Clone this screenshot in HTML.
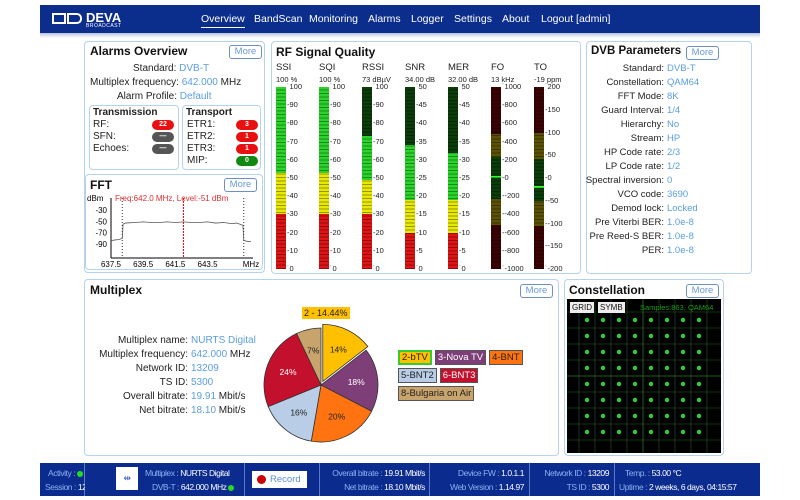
<!DOCTYPE html>
<html><head><meta charset="utf-8">
<style>
*{box-sizing:border-box;margin:0;padding:0}
body{width:800px;height:500px;background:#fff;font-family:"Liberation Sans",sans-serif;font-size:10px;color:#222;position:relative;overflow:hidden}
.abs{position:absolute}
.panel{position:absolute;border:1.5px solid #b5d2ee;border-radius:4px;background:#fff}
.ttl{position:absolute;font-weight:bold;font-size:12px;color:#111;white-space:nowrap}
.more{position:absolute;border:1.5px solid #6d8fc4;border-radius:3px;background:#fff;color:#6a9ad8;font-size:9.5px;text-align:center;line-height:11px;width:33px;height:14px}
.v{color:#5a9ee0}
.row{position:absolute;white-space:nowrap;font-size:10px}
.nav{position:absolute;top:13px;color:#fff;font-size:10.5px}
.pill{position:absolute;width:22px;height:10px;border-radius:5px;color:#fff;font-size:7px;font-weight:bold;text-align:center;line-height:10px}
.sb{position:absolute;top:463px;height:33px;background:#0b2b8e;border-right:1px solid #5a7ac8;color:#fff;font-size:8.5px;white-space:nowrap;letter-spacing:-0.45px}
.sb span.l{color:#8fb0f0}
.dot{display:inline-block;width:6px;height:6px;border-radius:3px;background:#2d2;vertical-align:middle}
.leg{display:inline-block;height:15px;font-size:9.5px;line-height:13px;padding:0 2px;border:1px solid #555;margin-right:3px;white-space:nowrap}
</style></head><body>
<!-- header -->
<div class="abs" style="left:40px;top:5px;width:720px;height:28px;background:#0b2d8c"></div>
<div class="abs" style="left:40px;top:33px;width:720px;height:5px;background:linear-gradient(#b8c4e0,#fff)"></div>
<div class="abs" style="left:52px;top:11px;width:74px;height:18px">
 <div class="abs" style="left:0;top:2px;width:14px;height:11px;border:2.5px solid #fff"></div>
 <div class="abs" style="left:15px;top:2px;width:15px;height:11px;border:2.5px solid #fff;border-radius:0 5px 5px 0"></div>
 <div class="abs" style="left:34px;top:-1px;color:#fff;font-weight:bold;font-size:13px">DEVA</div>
 <div class="abs" style="left:34px;top:12px;color:#fff;font-size:5px;letter-spacing:0.5px">BROADCAST</div>
</div>
<div class="nav" style="left:201px;border-bottom:1.5px solid #fff;padding-bottom:2px">Overview</div>
<div class="nav" style="left:254px">BandScan</div>
<div class="nav" style="left:309px">Monitoring</div>
<div class="nav" style="left:368px">Alarms</div>
<div class="nav" style="left:411px">Logger</div>
<div class="nav" style="left:454px">Settings</div>
<div class="nav" style="left:502px">About</div>
<div class="nav" style="left:541px">Logout [admin]</div>

<!-- Alarms overview -->
<div class="panel" style="left:84px;top:41px;width:181px;height:232px"></div>
<div class="ttl" style="left:90px;top:44px">Alarms Overview</div>
<div class="more" style="left:229px;top:45px">More</div>
<div class="row" style="left:133px;top:63px">Standard: <span class="v">DVB-T</span></div>
<div class="row" style="left:90px;top:77px">Multiplex frequency: <span class="v">642.000</span> MHz</div>
<div class="row" style="left:117px;top:91px">Alarm Profile: <span class="v">Default</span></div>
<div class="panel" style="left:89px;top:105px;width:90px;height:65px"></div>
<div class="panel" style="left:182px;top:105px;width:79px;height:65px"></div>
<div class="row" style="left:93px;top:107px;font-weight:bold">Transmission</div>
<div class="row" style="left:93px;top:119px">RF:</div>
<div class="row" style="left:93px;top:131px">SFN:</div>
<div class="row" style="left:93px;top:143px">Echoes:</div>
<div class="pill" style="left:152px;top:120px;background:#e81010">22</div>
<div class="pill" style="left:152px;top:132px;background:#555">—</div>
<div class="pill" style="left:152px;top:144px;background:#555">—</div>
<div class="row" style="left:186px;top:107px;font-weight:bold">Transport</div>
<div class="row" style="left:187px;top:119px">ETR1:</div>
<div class="row" style="left:187px;top:131px">ETR2:</div>
<div class="row" style="left:187px;top:143px">ETR3:</div>
<div class="row" style="left:187px;top:155px">MIP:</div>
<div class="pill" style="left:236px;top:120px;background:#e81010">3</div>
<div class="pill" style="left:236px;top:132px;background:#e81010">1</div>
<div class="pill" style="left:236px;top:144px;background:#e81010">1</div>
<div class="pill" style="left:236px;top:156px;background:#118811">0</div>

<!-- FFT -->
<div class="panel" style="left:85px;top:174px;width:178px;height:96px"></div>
<div class="ttl" style="left:90px;top:178px">FFT</div>
<div class="more" style="left:224px;top:178px">More</div>
<svg class="abs" style="left:85px;top:190px" width="180" height="80" id="fft"></svg>

<!-- RF Signal Quality -->
<div class="panel" style="left:271px;top:41px;width:310px;height:233px"></div>
<div class="ttl" style="left:276px;top:45px">RF Signal Quality</div>
<div id="meters"></div>

<!-- DVB parameters -->
<div class="panel" style="left:586px;top:41px;width:166px;height:233px"></div>
<div class="ttl" style="left:591px;top:45px;font-size:11.5px">DVB Parameters</div>
<div class="more" style="left:686px;top:46px">More</div>
<div id="dvb"></div>

<!-- Multiplex -->
<div class="panel" style="left:84px;top:279px;width:475px;height:177px"></div>
<div class="ttl" style="left:90px;top:283px">Multiplex</div>
<div class="more" style="left:520px;top:284px">More</div>
<div id="mux"></div>
<svg class="abs" style="left:250px;top:300px" width="150" height="150" id="pie"></svg>
<div class="abs" style="left:302px;top:307px;background:#ffc000;font-size:9px;padding:0 2px;height:12px;line-height:12px">2 - 14.44%</div>
<div id="legend" class="abs" style="left:398px;top:350px;width:140px"></div>

<!-- Constellation -->
<div class="panel" style="left:564px;top:279px;width:160px;height:177px"></div>
<div class="ttl" style="left:569px;top:283px">Constellation</div>
<div class="more" style="left:686px;top:284px">More</div>
<svg class="abs" style="left:567px;top:299px" width="154" height="154" id="cons"></svg>
<div class="abs" style="left:570px;top:302px;background:#eee;color:#111;font-size:8px;padding:0 2px;height:11px;line-height:11px">GRID</div>
<div class="abs" style="left:598px;top:302px;background:#eee;color:#111;font-size:8px;padding:0 2px;height:11px;line-height:11px">SYMB</div>
<div class="abs" style="left:640px;top:303px;color:#1a9a1a;font-size:7.5px;white-space:nowrap">Samples:863, QAM64</div>

<!-- status bar -->
<div class="sb" style="left:40px;width:45px"><div class="abs" style="left:8px;top:5px"><span class="l">Activity :</span> <span class="dot"></span></div><div class="abs" style="left:5px;top:19px"><span class="l">Session :</span> 12:39</div></div>
<div class="sb" style="left:85px;width:160px"><div class="abs" style="left:31px;top:4px;width:22px;height:23px;background:#fff;color:#35c;font-size:9px;text-align:center;line-height:23px">⇹</div><div class="abs" style="left:60px;top:5px"><span class="l">Multiplex :</span> NURTS Digital</div><div class="abs" style="left:67px;top:19px"><span class="l">DVB-T :</span> 642.000 MHz <span class="dot"></span></div></div>
<div class="sb" style="left:245px;width:75px"><div class="abs" style="left:7px;top:8px;width:55px;height:17px;background:#fff;color:#5a8fd8;font-size:9.5px;line-height:17px;padding-left:18px;letter-spacing:0"><span class="abs" style="left:5px;top:4px;width:9px;height:9px;border-radius:5px;background:#c00"></span>Record</div></div>
<div class="sb" style="left:320px;width:110px"><div class="abs" style="right:4px;top:5px"><span class="l">Overall bitrate :</span> 19.91 Mbit/s</div><div class="abs" style="right:4px;top:19px"><span class="l">Net bitrate :</span> 18.10 Mbit/s</div></div>
<div class="sb" style="left:430px;width:100px"><div class="abs" style="right:5px;top:5px"><span class="l">Device FW :</span> 1.0.1.1</div><div class="abs" style="right:5px;top:19px"><span class="l">Web Version :</span> 1.14.97</div></div>
<div class="sb" style="left:530px;width:85px"><div class="abs" style="right:5px;top:5px"><span class="l">Network ID :</span> 13209</div><div class="abs" style="right:5px;top:19px"><span class="l">TS ID :</span> 5300</div></div>
<div class="sb" style="left:615px;width:145px;border-right:none"><div class="abs" style="left:10px;top:5px"><span class="l">Temp. :</span> 53.00 °C</div><div class="abs" style="left:4px;top:19px"><span class="l">Uptime :</span> 2 weeks, 6 days, 04:15:57</div></div>

<script>
// ---- RF meter data ----
var meterNames=["SSI","SQI","RSSI","SNR","MER","FO","TO"];
var meterReadouts=["100 %","100 %","73 dBµV","34.00 dB","32.00 dB","13 kHz","-19 ppm"];
var meterValues=[100,100,73,34,32,13,-19];
var meterMin=[0,0,0,0,0,-1000,-200];
var meterMax=[100,100,100,50,50,1000,200];
var meterStep=[10,10,10,5,5,200,50];
var meterZones=[
 [[0,30,"r"],[30,53,"y"],[53,100,"g"]],
 [[0,30,"r"],[30,53,"y"],[53,100,"g"]],
 [[0,30,"r"],[30,49,"y"],[49,100,"g"]],
 [[0,10,"r"],[10,19,"y"],[19,50,"g"]],
 [[0,10,"r"],[10,19,"y"],[19,50,"g"]],
 [[-1000,-520,"r"],[-520,-230,"y"],[-230,230,"g"],[230,480,"y"],[480,1000,"r"]],
 [[-200,-105,"r"],[-105,-50,"y"],[-50,42,"g"],[42,100,"y"],[100,200,"r"]]
];
var meterFill=[true,true,true,true,true,false,false];
var bright={r:"#e01414",y:"#e8e800",g:"#2ad42a"}, dark={r:"#3a0202",y:"#5a5200",g:"#0b3d0b"};
var M=document.getElementById("meters");
var topY=87,botY=269,colX0=276,colDX=43;
function meterY(i,v){return botY-(v-meterMin[i])/(meterMax[i]-meterMin[i])*(botY-topY);}
for(var i=0;i<meterNames.length;i++){
 var x=colX0+i*colDX;
 var n=document.createElement("div");n.className="abs";n.style.cssText="left:"+x+"px;top:62px;font-size:9.5px";n.textContent=meterNames[i];
 
 
 M.appendChild(n);
 var r=document.createElement("div");r.className="abs";r.style.cssText="left:"+x+"px;top:75px;font-size:7.5px;white-space:nowrap";r.textContent=meterReadouts[i];
 
 
 M.appendChild(r);
 var bar=document.createElement("div");bar.className="abs";bar.style.cssText="left:"+x+"px;top:"+topY+"px;width:10px;height:"+(botY-topY)+"px;background:#111";
 
 
 M.appendChild(bar);
 meterZones[i].forEach(function(z){
  var lo=z[0],hi=z[1];
  var y1=meterY(i,hi),y2=meterY(i,lo);
  var litTop=meterFill[i]?meterY(i,Math.min(meterValues[i],hi)):y2;
  var d=document.createElement("div");d.className="abs";d.style.cssText="left:"+x+"px;top:"+y1+"px;width:10px;height:"+(y2-y1)+"px;background:"+dark[z[2]];
  
  
  M.appendChild(d);
  if(meterFill[i]&&meterValues[i]>lo){
   var l=document.createElement("div");l.className="abs";l.style.cssText="left:"+x+"px;top:"+litTop+"px;width:10px;height:"+(y2-litTop)+"px;background:"+bright[z[2]];
   
   
   M.appendChild(l);
  }
 });
 if(!meterFill[i]){
  var mk=document.createElement("div");mk.className="abs";mk.style.cssText="left:"+x+"px;top:"+(meterY(i,meterValues[i])-1)+"px;width:10px;height:2px;background:#3f3";
  
  
  M.appendChild(mk);
 }
 var seg=document.createElement("div");seg.className="abs";seg.style.cssText="left:"+x+"px;top:"+topY+"px;width:10px;height:"+(botY-topY)+"px;background:repeating-linear-gradient(to bottom,transparent 0 2.5px,rgba(0,0,0,0.35) 2.5px 3.5px)";
 
 
 M.appendChild(seg);
 for(var t=meterMin[i];t<=meterMax[i];t+=meterStep[i]){
  var tk=document.createElement("div");tk.className="abs";tk.style.cssText="left:"+(x+11)+"px;top:"+(meterY(i,t)-5)+"px;font-size:7.5px;color:#222";
  tk.textContent=(t==meterMax[i]||t==meterMin[i]?"\u02D9":"-")+t;
  
  
  M.appendChild(tk);
 }
}

// ---- DVB params ----
var dvbLabels=["Standard:","Constellation:","FFT Mode:","Guard Interval:","Hierarchy:","Stream:","HP Code rate:","LP Code rate:","Spectral inversion:","VCO code:","Demod lock:","Pre Viterbi BER:","Pre Reed-S BER:","PER:"];
var dvbValues=["DVB-T","QAM64","8K","1/4","No","HP","2/3","1/2","0","3690","Locked","1.0e-8","1.0e-8","1.0e-8"];
var D=document.getElementById("dvb");
dvbLabels.forEach(function(l,k){
 var a=document.createElement("div");a.className="row";a.style.cssText="right:"+(800-664)+"px;top:"+(63+k*14)+"px;font-size:9.5px";a.textContent=l;
 
 
 D.appendChild(a);
 var b=document.createElement("div");b.className="row v";b.style.cssText="left:667px;top:"+(63+k*14)+"px;font-size:9.5px";b.textContent=dvbValues[k];
 
 
 D.appendChild(b);
});

// ---- Multiplex info ----
var muxLabels=["Multiplex name:","Multiplex frequency:","Network ID:","TS ID:","Overall bitrate:","Net bitrate:"];
var muxValues=["NURTS Digital","642.000","13209","5300","19.91","18.10"];
var muxUnits=[""," MHz","","",' Mbit/s',' Mbit/s'];
var X=document.getElementById("mux");
muxLabels.forEach(function(l,k){
 var a=document.createElement("div");a.className="row";a.style.cssText="right:"+(800-188)+"px;top:"+(335+k*14)+"px";a.textContent=l;
 
 
 X.appendChild(a);
 var b=document.createElement("div");b.className="row";b.style.cssText="left:191px;top:"+(335+k*14)+"px";b.innerHTML='<span class="v">'+muxValues[k]+'</span>'+muxUnits[k];
 
 
 X.appendChild(b);
});

// ---- Pie ----
var pieLabels=["2-bTV","3-Nova TV","4-BNT","5-BNT2","6-BNT3","8-Bulgaria on Air"];
var pieValues=[14.44,18,20,16,24,7];
var pieColors=["#ffc000","#7e3f78","#ff7410","#b9cde6","#c3102c","#c9a36c"];
var pieText=["#222","#fff","#222","#222","#fff","#222"];
var NS="http://www.w3.org/2000/svg";
var P=document.getElementById("pie");
var cx=71,cy=85,R=57,tot=pieValues.reduce(function(a,b){return a+b},0),ang=-Math.PI/2;
pieValues.forEach(function(v,k){
 var a2=ang+v/tot*2*Math.PI,mid=(ang+a2)/2,off=k==0?4:0;
 var ox=cx+off*Math.cos(mid),oy=cy+off*Math.sin(mid);
 var p=document.createElementNS(NS,"path");
 p.setAttribute("d","M"+ox+","+oy+"L"+(ox+R*Math.cos(ang))+","+(oy+R*Math.sin(ang))+"A"+R+","+R+" 0 "+(a2-ang>Math.PI?1:0)+" 1 "+(ox+R*Math.cos(a2))+","+(oy+R*Math.sin(a2))+"Z");
 p.setAttribute("fill",pieColors[k]);p.setAttribute("stroke","#333");p.setAttribute("stroke-width","0.8");
 
 
 P.appendChild(p);
 var t=document.createElementNS(NS,"text");
 var lr=R*0.62;
 t.setAttribute("x",ox+lr*Math.cos(mid));t.setAttribute("y",oy+lr*Math.sin(mid)+3);
 t.setAttribute("text-anchor","middle");t.setAttribute("font-size","8.5");t.setAttribute("font-family","Liberation Sans");t.setAttribute("fill",pieText[k]);
 t.textContent=Math.round(v)+"%";
 
 
 P.appendChild(t);
 ang=a2;
});
// legend
var legBreakAfter=[false,false,true,false,true,false];
var L=document.getElementById("legend");
pieLabels.forEach(function(l,k){
 var d=document.createElement("span");d.className="leg";
 d.style.cssText="background:"+pieColors[k]+";color:"+(pieText[k]=="#fff"?"#fff":"#222")+(k==0?";border:2px solid #3c3;line-height:11px":"");
 d.textContent=l;
 
 
 L.appendChild(d);
 if(legBreakAfter[k]){var br=document.createElement("div");br.style.height="3px";L.appendChild(br);}
});

// ---- FFT ----
var fftFreqTicks=[637.5,639.5,641.5,643.5];
var fftLevelTicks=[-30,-50,-70,-90];
var fftFreqs=[637.5,637.7,638.0,638.2,638.25,638.4,639.0,639.5,640.0,640.5,641.0,641.5,642.0,642.5,643.0,643.5,644.0,644.5,645.0,645.3,645.5,645.7,645.75,645.9,646.2];
var fftLevels=[-84,-83,-82,-80,-55,-53,-52,-51,-52,-52,-51,-52,-51,-52,-52,-51,-53,-52,-54,-53,-55,-57,-83,-85,-86];
var markerFreq=642.0;
var F=document.getElementById("fft");
function fx(f){return 26+(f-637.5)/(646.2-637.5)*(166-26);}
function fy(v){return 20+(-30-v)*0.567;}
function sv(tag,at,name){var e=document.createElementNS(NS,tag);for(var k in at)e.setAttribute(k,at[k]);F.appendChild(e);return e;}
sv("line",{x1:26,y1:8,x2:26,y2:68,stroke:"#000","stroke-width":1},"fft-y-axis");
sv("line",{x1:26,y1:68,x2:168,y2:68,stroke:"#000","stroke-width":1},"fft-x-axis");
var tt=sv("text",{x:2,y:11,"font-size":"8","font-family":"Liberation Sans"},"fft-y-unit");tt.textContent="dBm";
fftLevelTicks.forEach(function(v){var t=sv("text",{x:22,y:fy(v)+3,"font-size":"8","text-anchor":"end","font-family":"Liberation Sans"},"fft-y-tick");t.textContent=v;});
fftFreqTicks.forEach(function(f){var t=sv("text",{x:fx(f),y:77,"font-size":"8","text-anchor":"middle","font-family":"Liberation Sans"},"fft-x-tick");t.textContent=f.toFixed(1);});
var mu=sv("text",{x:166,y:77,"font-size":"8","text-anchor":"middle","font-family":"Liberation Sans"},"fft-x-unit");mu.textContent="MHz";
sv("line",{x1:fx(638.2),y1:8,x2:fx(638.2),y2:68,stroke:"#333","stroke-dasharray":"1,2"},"fft-band-edge-left");
sv("line",{x1:fx(645.75),y1:8,x2:fx(645.75),y2:68,stroke:"#333","stroke-dasharray":"1,2"},"fft-band-edge-right");
sv("line",{x1:fx(markerFreq),y1:8,x2:fx(markerFreq),y2:68,stroke:"#d00","stroke-dasharray":"2,1"},"fft-marker-line");
var pts=fftFreqs.map(function(f,k){return fx(f)+","+fy(fftLevels[k]);}).join(" ");
sv("polyline",{points:pts,fill:"none",stroke:"#555","stroke-width":0.8},"fft-trace");
var mt=sv("text",{x:30,y:11,"font-size":"8","fill":"#e03030","font-family":"Liberation Sans"},"fft-marker-label");mt.textContent="Freq:642.0 MHz, Level:-51 dBm";

// ---- Constellation ----
var C=document.getElementById("cons");
var bg=document.createElementNS(NS,"rect");bg.setAttribute("width",154);bg.setAttribute("height",154);bg.setAttribute("fill","#000");


C.appendChild(bg);
for(var g=0;g<9;g++){
 var l1=document.createElementNS(NS,"line");l1.setAttribute("x1",12+g*16);l1.setAttribute("x2",12+g*16);l1.setAttribute("y1",0);l1.setAttribute("y2",154);l1.setAttribute("stroke","#123312");
 
 
 C.appendChild(l1);
 var l2=document.createElementNS(NS,"line");l2.setAttribute("y1",13+g*16);l2.setAttribute("y2",13+g*16);l2.setAttribute("x1",0);l2.setAttribute("x2",154);l2.setAttribute("stroke","#123312");
 
 
 C.appendChild(l2);
}
var ax=document.createElementNS(NS,"path");ax.setAttribute("d","M76,0V154M0,77H154");ax.setAttribute("stroke","#1f5a1f");


C.appendChild(ax);
for(var a=0;a<8;a++)for(var b=0;b<8;b++){
 var c=document.createElementNS(NS,"circle");c.setAttribute("cx",20+a*16);c.setAttribute("cy",21+b*16);c.setAttribute("r",2.2);c.setAttribute("fill","#2fd02f");
 
 
 C.appendChild(c);
}
</script>
</body></html>
